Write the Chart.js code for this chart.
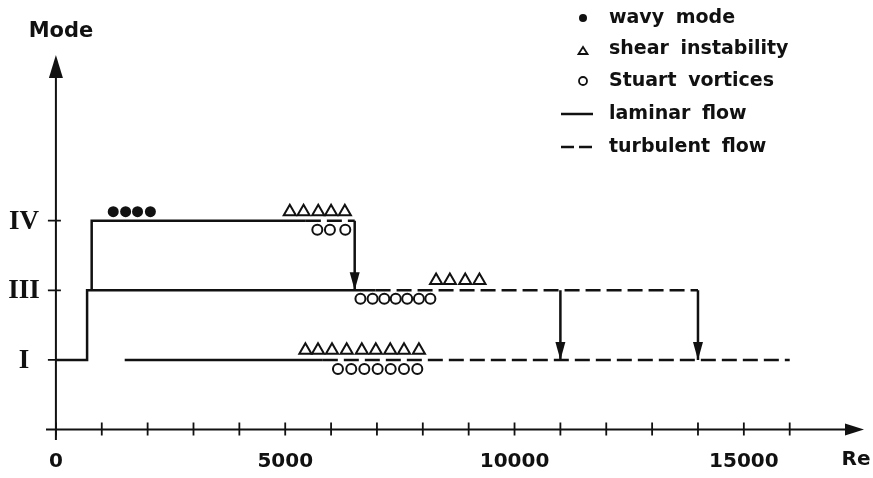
<!DOCTYPE html>
<html>
<head>
<meta charset="utf-8">
<script src="https://cdn.jsdelivr.net/npm/chart.js@4"></script>
<style>
  body { margin: 0; background: #fff; }
  canvas { display: block; }
</style>
</head>
<body>
<canvas id="chartModes" width="873" height="478"></canvas>
<script>
// axis ticks
const xTicks = [0, 1000, 2000, 3000, 4000, 5000, 6000, 7000, 8000, 9000, 10000, 11000, 12000, 13000, 14000, 15000, 16000];
const xLabels = [0, 5000, 10000, 15000];
const modeLevels = [1, 2, 3];
const modeNames = ['I', 'III', 'IV'];

// observed patterns (Re, mode height)
const wavyRe = [1250, 1520, 1780, 2060];
const wavyY = [3.13, 3.13, 3.13, 3.13];
const shearIVRe = [5100, 5400, 5720, 6000, 6300];
const shearIVY = [3.13, 3.13, 3.13, 3.13, 3.13];
const stuartIVRe = [5700, 5975, 6310];
const stuartIVY = [2.87, 2.87, 2.87];
const shearIIIRe = [8290, 8590, 8925, 9235];
const shearIIIY = [2.14, 2.14, 2.14, 2.14];
const stuartIIIRe = [6640, 6905, 7160, 7410, 7660, 7915, 8165];
const stuartIIIY = [1.88, 1.88, 1.88, 1.88, 1.88, 1.88, 1.88];
const shearIRe = [5440, 5715, 6020, 6340, 6670, 6975, 7290, 7590, 7915];
const shearIY = [1.14, 1.14, 1.14, 1.14, 1.14, 1.14, 1.14, 1.14, 1.14];
const stuartIRe = [6150, 6440, 6725, 7015, 7300, 7590, 7880];
const stuartIY = [0.87, 0.87, 0.87, 0.87, 0.87, 0.87, 0.87];

// flow paths: [Re, mode]
const laminarMain = [[0, 1], [680, 1], [680, 2], [6970, 2]];
const laminarIV = [[780, 2], [780, 3], [5450, 3]];
const turbulentIV = [[5450, 3], [6515, 3]];
const turbulentIII = [[6970, 2], [14000, 2]];
const laminarI = [[1500, 1], [5820, 1]];
const turbulentI = [[5820, 1], [16000, 1]];
const dropIV = [[6515, 3], [6515, 2]];
const dropA = [[11000, 2], [11000, 1]];
const dropB = [[14000, 2], [14000, 1]];

const toPts = (xs, ys) => xs.map((x, i) => ({ x: x, y: ys[i] }));
const pathPts = (p) => p.map(d => ({ x: d[0], y: d[1] }));

const ink = '#111';
const labelFont = '"DejaVu Sans", sans-serif';

const lineSet = (label, path, dashed, arrow) => ({
    type: 'line',
    label: label,
    data: pathPts(path),
    borderColor: ink,
    borderWidth: 2.5,
    borderDash: dashed ? [15, 6] : [],
    pointRadius: 0,
    fill: false,
    tension: 0,
    arrow: arrow || false
});

const markerSet = (label, xs, ys, style, filled, r, bw) => ({
    type: 'scatter',
    label: label,
    data: toPts(xs, ys),
    pointStyle: style,
    pointRadius: r,
    pointBorderWidth: bw,
    pointBorderColor: ink,
    pointBackgroundColor: filled ? ink : '#fff'
});

// axes with arrows, ticks and labels
const axesPlugin = {
    id: 'axesPlugin',
    beforeDatasetsDraw(chart) {
        const ctx = chart.ctx;
        const xs = chart.scales.x, ys = chart.scales.y;
        const area = chart.chartArea;
        const x0 = xs.getPixelForValue(0), y0 = ys.getPixelForValue(0);
        ctx.save();
        ctx.strokeStyle = ink;
        ctx.fillStyle = ink;
        ctx.lineWidth = 2;
        ctx.beginPath();
        ctx.moveTo(area.left, y0);
        ctx.lineTo(area.right - 12, y0);
        ctx.moveTo(x0, area.bottom);
        ctx.lineTo(x0, area.top + 15);
        ctx.stroke();
        // arrow heads
        ctx.beginPath();
        ctx.moveTo(area.right, y0);
        ctx.lineTo(area.right - 19, y0 - 6);
        ctx.lineTo(area.right - 19, y0 + 6);
        ctx.closePath();
        ctx.fill();
        ctx.beginPath();
        ctx.moveTo(x0, area.top);
        ctx.lineTo(x0 - 7, area.top + 23);
        ctx.lineTo(x0 + 7, area.top + 23);
        ctx.closePath();
        ctx.fill();
        // ticks
        ctx.lineWidth = 1.8;
        ctx.beginPath();
        xTicks.forEach(v => {
            const px = xs.getPixelForValue(v);
            ctx.moveTo(px, y0 - 7);
            ctx.lineTo(px, y0 + 6);
        });
        modeLevels.forEach(v => {
            const py = ys.getPixelForValue(v);
            ctx.moveTo(x0 - 8, py);
            ctx.lineTo(x0 + 5, py);
        });
        ctx.stroke();
        // tick labels
        ctx.font = 'bold 20px ' + labelFont;
        ctx.textAlign = 'center';
        ctx.textBaseline = 'middle';
        xLabels.forEach(v => {
            ctx.fillText(String(v), xs.getPixelForValue(v), 462);
        });
        ctx.fillText('Re', 856, 460);
        ctx.font = 'bold 21px ' + labelFont;
        ctx.fillText('Mode', 61, 32);
        ctx.font = 'bold 27px "Liberation Serif", serif';
        modeLevels.forEach((v, i) => {
            ctx.fillText(modeNames[i], 24, ys.getPixelForValue(v) + 1);
        });
        ctx.restore();
    },
    afterDatasetsDraw(chart) {
        // arrow heads at the end of the drop lines
        const ctx = chart.ctx;
        ctx.save();
        ctx.fillStyle = ink;
        chart.data.datasets.forEach((ds, i) => {
            if (!ds.arrow) return;
            const meta = chart.getDatasetMeta(i);
            const tip = meta.data[meta.data.length - 1];
            ctx.beginPath();
            ctx.moveTo(tip.x, tip.y);
            ctx.lineTo(tip.x - 5, tip.y - 18);
            ctx.lineTo(tip.x + 5, tip.y - 18);
            ctx.closePath();
            ctx.fill();
        });
        ctx.restore();
    }
};

// legend drawn at the top right, like the original figure
const legendItems = [
    { text: 'wavy mode', kind: 'dot', y: 18 },
    { text: 'shear instability', kind: 'tri', y: 49 },
    { text: 'Stuart vortices', kind: 'ring', y: 81 },
    { text: 'laminar flow', kind: 'solid', y: 114 },
    { text: 'turbulent flow', kind: 'dash', y: 147 }
];

const legendPlugin = {
    id: 'legendPlugin',
    afterDraw(chart) {
        const ctx = chart.ctx;
        ctx.save();
        ctx.strokeStyle = ink;
        ctx.fillStyle = ink;
        legendItems.forEach(item => {
            const mx = 583;
            if (item.kind === 'dot') {
                ctx.beginPath();
                ctx.arc(mx, item.y, 4, 0, Math.PI * 2);
                ctx.fill();
            } else if (item.kind === 'tri') {
                ctx.lineWidth = 1.8;
                ctx.beginPath();
                ctx.moveTo(mx, item.y - 2);
                ctx.lineTo(mx - 4.5, item.y + 5);
                ctx.lineTo(mx + 4.5, item.y + 5);
                ctx.closePath();
                ctx.stroke();
            } else if (item.kind === 'ring') {
                ctx.lineWidth = 1.8;
                ctx.beginPath();
                ctx.arc(mx, item.y, 4, 0, Math.PI * 2);
                ctx.stroke();
            } else {
                ctx.lineWidth = 2.5;
                ctx.setLineDash(item.kind === 'dash' ? [13, 5] : []);
                ctx.beginPath();
                ctx.moveTo(561, item.y);
                ctx.lineTo(593, item.y);
                ctx.stroke();
                ctx.setLineDash([]);
            }
            ctx.font = 'bold 19px ' + labelFont;
            ctx.wordSpacing = '5px';
            ctx.textAlign = 'left';
            ctx.textBaseline = 'middle';
            ctx.fillText(item.text, 609, item.y);
        });
        ctx.restore();
    }
};

const dataModes = {
    datasets: [
        lineSet('laminar main', laminarMain, false),
        lineSet('laminar IV', laminarIV, false),
        lineSet('turbulent IV', turbulentIV, true),
        lineSet('turbulent III', turbulentIII, true),
        lineSet('laminar I', laminarI, false),
        lineSet('turbulent I', turbulentI, true),
        lineSet('drop IV', dropIV, false, true),
        lineSet('drop 11000', dropA, false, true),
        lineSet('drop 14000', dropB, false, true),
        markerSet('wavy mode', wavyRe, wavyY, 'circle', true, 5.5, 0),
        markerSet('shear instability IV', shearIVRe, shearIVY, 'triangle', false, 7, 2),
        markerSet('Stuart vortices IV', stuartIVRe, stuartIVY, 'circle', false, 5, 2),
        markerSet('shear instability III', shearIIIRe, shearIIIY, 'triangle', false, 7, 2),
        markerSet('Stuart vortices III', stuartIIIRe, stuartIIIY, 'circle', false, 5, 2),
        markerSet('shear instability I', shearIRe, shearIY, 'triangle', false, 7, 2),
        markerSet('Stuart vortices I', stuartIRe, stuartIY, 'circle', false, 5, 2)
    ]
};

const configModes = {
    type: 'scatter',
    data: dataModes,
    options: {
        responsive: false,
        animation: false,
        layout: {
            padding: { left: 46, right: 3, top: 55, bottom: 38 }
        },
        plugins: {
            legend: { display: false },
            tooltip: { enabled: false },
            title: { display: false }
        },
        scales: {
            x: { type: 'linear', min: -216, max: 17620, display: false },
            y: { type: 'linear', min: -0.15, max: 5.38, display: false }
        }
    },
    plugins: [axesPlugin, legendPlugin]
};

const chartModes = new Chart(document.getElementById('chartModes'), configModes);
</script>
</body>
</html>
